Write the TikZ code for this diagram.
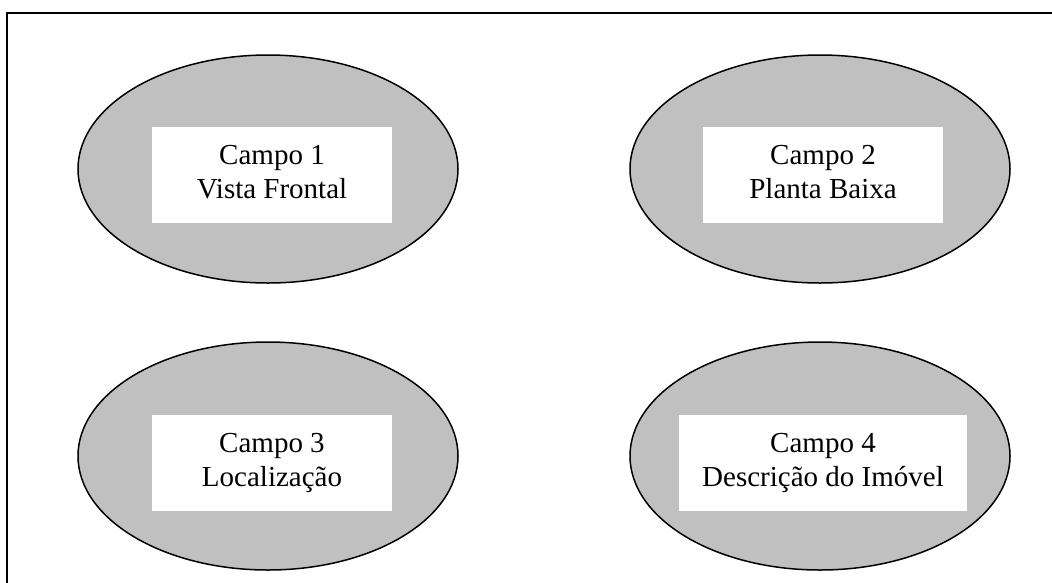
\documentclass[tikz,border=0pt]{standalone}
\usepackage{fontspec}
\setmainfont{Liberation Serif}
\usetikzlibrary{shapes.geometric}
\definecolor{campogray}{RGB}{192,192,192}
\tikzset{
  campo/.style={ellipse,draw,line width=1.5pt,fill=campogray,minimum width=380pt,minimum height=228pt,inner sep=0pt},
  rotulo/.style={rectangle,fill=white,minimum width=240pt,minimum height=96pt,inner sep=0pt,align=center,
    font=\fontsize{29}{34}\selectfont,text height=54pt,text depth=8pt}
}
\begin{document}
\begin{tikzpicture}[x=1pt,y=-1pt]
\useasboundingbox (0,0) rectangle (1052,582);
\draw[line width=2pt] (7,600) -- (7,13) -- (1070,13);
\node (E1) at (268,169) [campo] {};
\node (E2) at (820,169) [campo] {};
\node (E3) at (268,456) [campo] {};
\node (E4) at (820,456) [campo] {};
\node (R1) at (272,175) [rotulo] {Campo 1\\Vista Frontal};
\node (R2) at (823,175) [rotulo] {Campo 2\\Planta Baixa};
\node (R3) at (272,463) [rotulo] {Campo 3\\Localização};
\node (R4) at (823,463) [rotulo,minimum width=288pt] {Campo 4\\Descrição do Imóvel};
\end{tikzpicture}
\end{document}
